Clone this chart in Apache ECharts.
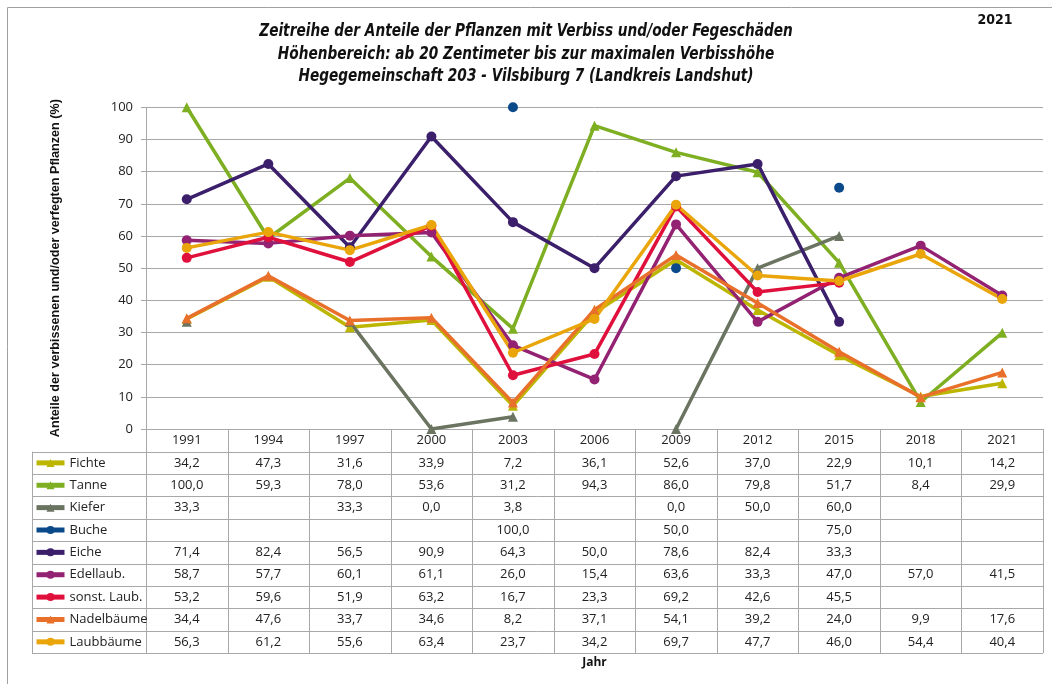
<!DOCTYPE html>
<html><head><meta charset="utf-8">
<script src="https://cdn.jsdelivr.net/npm/echarts@6/dist/echarts.min.js"></script>
<style>html,body{margin:0;padding:0;background:#fff}#c{width:1052px;height:684px}</style>
</head><body><div id="c"></div>
<script>
const titleLines = [
  'Zeitreihe der Anteile der Pflanzen mit Verbiss und/oder Fegeschäden',
  'Höhenbereich: ab 20 Zentimeter bis zur maximalen Verbisshöhe',
  'Hegegemeinschaft 203 - Vilsbiburg 7 (Landkreis Landshut)'
];
const years = ['1991','1994','1997','2000','2003','2006','2009','2012','2015','2018','2021'];
const fichte   = [34.2,47.3,31.6,33.9,7.2,36.1,52.6,37.0,22.9,10.1,14.2];
const tanne    = [100.0,59.3,78.0,53.6,31.2,94.3,86.0,79.8,51.7,8.4,29.9];
const kiefer   = [33.3,null,33.3,0.0,3.8,null,0.0,50.0,60.0,null,null];
const buche    = [null,null,null,null,100.0,null,50.0,null,75.0,null,null];
const eiche    = [71.4,82.4,56.5,90.9,64.3,50.0,78.6,82.4,33.3,null,null];
const edellaub = [58.7,57.7,60.1,61.1,26.0,15.4,63.6,33.3,47.0,57.0,41.5];
const sonstLaub= [53.2,59.6,51.9,63.2,16.7,23.3,69.2,42.6,45.5,null,null];
const nadel    = [34.4,47.6,33.7,34.6,8.2,37.1,54.1,39.2,24.0,9.9,17.6];
const laub     = [56.3,61.2,55.6,63.4,23.7,34.2,69.7,47.7,46.0,54.4,40.4];
const yTicks = [0,10,20,30,40,50,60,70,80,90,100];

const seriesDefs = [
  {name:'Fichte', data:fichte, color:'#BDB600', symbol:'triangle'},
  {name:'Tanne', data:tanne, color:'#7EAF22', symbol:'triangle'},
  {name:'Kiefer', data:kiefer, color:'#6A7461', symbol:'triangle'},
  {name:'Buche', data:buche, color:'#0B4A8A', symbol:'circle'},
  {name:'Eiche', data:eiche, color:'#3B1F6B', symbol:'circle'},
  {name:'Edellaub.', data:edellaub, color:'#932372', symbol:'circle'},
  {name:'sonst. Laub.', data:sonstLaub, color:'#E0103C', symbol:'circle'},
  {name:'Nadelbäume', data:nadel, color:'#E9702A', symbol:'triangle'},
  {name:'Laubbäume', data:laub, color:'#E9A50A', symbol:'circle'}
];

const GL = 146, GR = 1043, GT = 107.3, GB = 429;
const ROW_TOP = 451.7, ROW_H = 22.37, TABLE_LEFT = 32;
const font = "'Open Sans', 'Noto Sans', sans-serif";
const narrow = "'Liberation Sans Narrow','DejaVu Sans Condensed',sans-serif";
const lineC = '#A8A8A8';

const chart = echarts.init(document.getElementById('c'), null, {renderer:'canvas'});
chart.setOption({
  animation:false,
  grid:{left:GL, right:1052-GR, top:GT, bottom:684-GB, containLabel:false},
  legend:{
    orient:'vertical', left:34, top:ROW_TOP + (ROW_H-14)/2, padding:0,
    itemWidth:28, itemHeight:10, itemGap:ROW_H-14,
    lineStyle:{width:5},
    selectedMode:false,
    textStyle:{fontFamily:font, fontSize:13, color:'#222', lineHeight:14, height:14},
    data: seriesDefs.map(s=>s.name)
  },
  xAxis:{
    type:'category', data:years, boundaryGap:true,
    axisLine:{lineStyle:{color:lineC}}, axisTick:{show:false},
    axisLabel:{margin:4, fontFamily:font, fontSize:13, color:'#222', lineHeight:14},
    name:'Jahr', nameLocation:'middle', nameGap:228,
    nameTextStyle:{fontFamily:font, fontSize:12, fontWeight:'bold', color:'#111'}
  },
  yAxis:{
    type:'value', min:yTicks[0], max:yTicks[yTicks.length-1], interval:10,
    axisLine:{show:true, lineStyle:{color:lineC}},
    axisTick:{show:true, length:5, lineStyle:{color:lineC}},
    axisLabel:{margin:13, fontFamily:font, fontSize:13, color:'#222'},
    splitLine:{lineStyle:{color:lineC}},
    name:'Anteile der verbissenen und/oder verfegten Pflanzen (%)', nameLocation:'middle', nameGap:84, nameRotate:90,
    nameTextStyle:{fontFamily:"'Liberation Sans', Arial, sans-serif", fontSize:12.6, fontWeight:'bold', color:'#111'}
  },
  series: seriesDefs.map(s=>({
    name:s.name, type:'line', data:s.data, connectNulls:false,
    symbol:s.symbol, symbolSize:10, showSymbol:true,
    lineStyle:{width:3.5, color:s.color}, itemStyle:{color:s.color},
    emphasis:{disabled:true}
  }))
});

// Data table drawn from the arrays
const colX = years.map((y,i)=>chart.convertToPixel({xAxisIndex:0}, i));
const colW = (GR-GL)/years.length;
const g = [];
const ROW_BOTTOM = ROW_TOP + ROW_H*seriesDefs.length;
g.push({type:'rect', shape:{x:7.5,y:7.5,width:1100,height:1000}, style:{fill:null, stroke:'#A0A0A0', lineWidth:1}, silent:true});
for(let i=0;i<=years.length;i++){
  const x = Math.round(GL + i*colW)+0.5;
  g.push({type:'line', shape:{x1:x,y1:GB,x2:x,y2:ROW_BOTTOM}, style:{stroke:lineC,lineWidth:1}, silent:true});
}
g.push({type:'line', shape:{x1:TABLE_LEFT+0.5,y1:ROW_TOP,x2:TABLE_LEFT+0.5,y2:ROW_BOTTOM}, style:{stroke:lineC,lineWidth:1}, silent:true});
for(let r=0;r<=seriesDefs.length;r++){
  const y = Math.round(ROW_TOP + r*ROW_H)+0.5;
  g.push({type:'line', shape:{x1:TABLE_LEFT,y1:y,x2:GR,y2:y}, style:{stroke:lineC,lineWidth:1}, silent:true});
}
seriesDefs.forEach((s,r)=>{
  const cy = ROW_TOP + (r+0.5)*ROW_H;
  s.data.forEach((v,i)=>{
    if(v===null) return;
    g.push({type:'text', x:colX[i], y:cy, silent:true,
      style:{text:v.toFixed(1).replace('.',','), fontFamily:font, fontSize:13, fill:'#222', align:'center', verticalAlign:'middle'}});
  });
});
const titleY = [32, 54.5, 77];
titleLines.forEach((t,i)=>{
  g.push({type:'text', x:526, y:titleY[i], scaleX:0.895, silent:true,
    style:{text:t, fontFamily:narrow, fontSize:17, fontWeight:'bold', fontStyle:'italic', fill:'#111', align:'center', verticalAlign:'middle'}});
});
g.push({type:'text', x:995, y:20, silent:true, style:{text:'2021', fontFamily:narrow, fontSize:14, fontWeight:'bold', fill:'#111', align:'center', verticalAlign:'middle'}});
chart.setOption({graphic:g});
</script></body></html>
